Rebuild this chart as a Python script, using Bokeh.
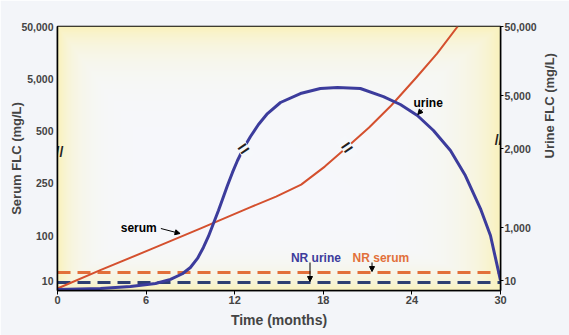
import numpy as np
from bokeh.plotting import figure
from bokeh.models import Range1d, LinearAxis, FixedTicker, Label, Arrow, NormalHead
from bokeh.core.properties import value
from bokeh.embed import file_html
from bokeh.resources import INLINE

# ---------------- data (mg/L) ----------------
serum_months = [0, 2.9, 6.3, 9.7, 13.0, 14.8, 16.5, 18.1, 19.6, 21.1, 22.6, 24.3, 25.7, 27.1]
serum_flc = [2, 17, 49, 113, 162, 196, 241, 309, 400, 570, 1510, 5220, 15100, 50000]

urine_months = [0, 2.91, 4.94, 6.64, 7.65, 8.46, 9.0, 9.48, 9.88, 10.22, 10.56, 10.9,
                11.17, 11.51, 11.85, 12.19, 12.59, 13.07, 13.61, 14.22, 15.1, 16.45,
                17.8, 18.96, 20.51, 22.07, 23.22, 24.37, 25.46, 26.61, 27.62, 28.64,
                29.32, 30.0]
urine_flc = [1, 2, 4, 7, 11, 18, 31, 68, 176, 459, 1036, 1161,
             1279, 1445, 1621, 1800, 2000, 2462, 3030, 3660, 4430, 5340,
             6310, 6530, 6310, 4910, 4280, 3540, 2730, 1966, 1578, 1181,
             497, 10]

nr_serum = 15      # normal range, serum (mg/L)
nr_urine = 8       # normal range, urine (mg/L)

x_ticks = [0, 6, 12, 18, 24, 30]
left_tick_values = [10, 100, 250, 500, 5000, 50000]
left_tick_labels = ["10", "100", "250", "500", "5,000", "50,000"]
right_tick_values = [10, 1000, 2000, 5000, 50000]
right_tick_labels = ["10", "1,000", "2,000", "5,000", "50,000"]

# break marks (month, mg/L)
serum_break = (19.6, 400)
urine_break = (12.59, 2000)
left_axis_break = 375
right_axis_break = 2300

# ---------------- broken (piecewise-log) scales ----------------
LEFT_ANCHOR_VALUES = [0] + left_tick_values
LEFT_ANCHOR_POS = [0, 10, 55, 108, 160, 212, 264]
RIGHT_ANCHOR_VALUES = [0] + right_tick_values
RIGHT_ANCHOR_POS = [0, 10, 63, 142, 195, 264]
Y_TOP = 264


def to_pos(vals, anchors, pos):
    out = []
    for v in np.atleast_1d(vals):
        for i in range(len(anchors) - 1):
            if v <= anchors[i + 1] or i == len(anchors) - 2:
                a, b = anchors[i], anchors[i + 1]
                f = v / b if a <= 0 else np.log(v / a) / np.log(b / a)
                out.append(pos[i] + f * (pos[i + 1] - pos[i]))
                break
    return np.array(out)


def left(v):
    return to_pos(v, LEFT_ANCHOR_VALUES, LEFT_ANCHOR_POS)


def right(v):
    return to_pos(v, RIGHT_ANCHOR_VALUES, RIGHT_ANCHOR_POS)


FONT = "Liberation Sans"
RED = "#d4502e"
BLUE = "#3c3c9c"
NR_ORANGE = "#e2703a"
NR_NAVY = "#2e3f72"

p = figure(width=569, height=335,
           x_range=Range1d(x_ticks[0], x_ticks[-1]), y_range=Range1d(0, Y_TOP),
           output_backend="svg", toolbar_location=None,
           min_border_left=57, min_border_right=69, min_border_top=26, min_border_bottom=45,
           border_fill_color="#f3f5f9", background_fill_color="#f6f8fb")
p.xgrid.visible = False
p.ygrid.visible = False
p.outline_line_color = "black"
p.outline_line_width = 1.5

# ---------- background gradient (yellow edges -> white centre) ----------
H, W = 264, 443
yy, xx = np.mgrid[0:H, 0:W].astype(float)
wgt = np.maximum.reduce([np.exp(-xx / 18), np.exp(-(W - 1 - xx) / 30),
                         np.exp(-(H - 1 - yy) / 24), np.exp(-yy / 14),
                         0.45 * np.exp(-((W - xx) / 110 + (H - yy) / 80))])
centre = np.array([246, 248, 252])
edge = np.array([250, 242, 188])
rgb = centre[None, None, :] * (1 - wgt[..., None]) + edge[None, None, :] * wgt[..., None]
img = np.empty((H, W), dtype=np.uint32)
view = img.view(dtype=np.uint8).reshape((H, W, 4))
view[..., :3] = rgb.astype(np.uint8)
view[..., 3] = 255
p.image_rgba(image=[img], x=x_ticks[0], y=0, dw=x_ticks[-1] - x_ticks[0], dh=Y_TOP)

# ---------- normal-range dashed lines ----------
xs = [x_ticks[0], x_ticks[-1]]
p.line(xs, list(left([nr_serum, nr_serum])), line_color=NR_ORANGE, line_width=3, line_dash="13 7")
p.line(xs, list(right([nr_urine, nr_urine])), line_color=NR_NAVY, line_width=3, line_dash="13 7")

# ---------- curves ----------
p.line(serum_months, left(serum_flc), line_color=RED, line_width=2, line_join="round")
p.line(urine_months, right(urine_flc), line_color=BLUE, line_width=3, line_join="round")

# ---------- break marks ----------
p.text(x=[urine_break[0], serum_break[0]],
       y=[right(urine_break[1])[0], left(serum_break[1])[0]],
       text=["=", "="], angle=0.6, text_align="center", text_baseline="middle",
       text_font=value(FONT), text_font_style="bold", text_font_size="19px", text_color="#222222",
       background_fill_color="#f6f8fb", padding=0)
p.text(x=[x_ticks[0]], y=[left(left_axis_break)[0]], text=["//"],
       text_align="left", text_baseline="middle", x_offset=-2,
       text_font=value(FONT), text_font_style="bold", text_font_size="14px", text_color="#222222")
p.text(x=[x_ticks[-1]], y=[right(right_axis_break)[0]], text=["//"],
       text_align="right", text_baseline="middle", x_offset=2,
       text_font=value(FONT), text_font_style="bold", text_font_size="14px", text_color="#222222")

# ---------- axes ----------
tick_font_size = "10.5px"
xa = p.xaxis[0]
xa.ticker = FixedTicker(ticks=x_ticks)
xa.axis_label = "Time (months)"
xa.axis_label_text_font = FONT
xa.axis_label_text_font_style = "bold"
xa.axis_label_text_font_size = "14px"
xa.axis_label_standoff = 5
xa.major_label_text_font = FONT
xa.major_label_text_font_style = "bold"
xa.major_label_text_font_size = "11px"
xa.major_label_standoff = 1
xa.major_tick_out = 4
xa.major_tick_in = 0
xa.minor_tick_out = 0
xa.minor_tick_in = 0
xa.axis_line_width = 1.5

ya = p.yaxis[0]
lpos = [round(float(v), 3) for v in left(left_tick_values)]
ya.ticker = FixedTicker(ticks=lpos)
ya.major_label_overrides = {k: t for k, t in zip(lpos, left_tick_labels)}
ya.major_label_text_font = FONT
ya.major_label_text_font_style = "bold"
ya.major_label_text_font_size = tick_font_size
ya.major_label_standoff = 4
ya.major_tick_out = 0
ya.major_tick_in = 0
ya.minor_tick_out = 0
ya.minor_tick_in = 0
ya.axis_line_width = 1.5
ya.axis_label = "Serum FLC (mg/L)"
ya.axis_label_text_font = FONT
ya.axis_label_text_font_style = "bold"
ya.axis_label_text_font_size = "13px"
ya.axis_label_standoff = -6

rpos = [round(float(v), 3) for v in right(right_tick_values)]
ra = LinearAxis(ticker=FixedTicker(ticks=rpos))
ra.major_label_overrides = {k: t for k, t in zip(rpos, right_tick_labels)}
ra.major_label_text_font = FONT
ra.major_label_text_font_style = "bold"
ra.major_label_text_font_size = tick_font_size
ra.major_label_standoff = 1
ra.major_tick_out = 3
ra.major_tick_in = 0
ra.minor_tick_out = 0
ra.minor_tick_in = 0
ra.axis_line_width = 1.5
ra.axis_label = "Urine FLC (mg/L)"
ra.axis_label_text_font = FONT
ra.axis_label_text_font_style = "bold"
ra.axis_label_text_font_size = "13px"
ra.axis_label_standoff = 10
if "axis_label_orientation" in ra.properties():
    ra.axis_label_orientation = float(np.pi / 2)
p.add_layout(ra, "right")

# ---------- annotations ----------
def note(x, y, text, color="black"):
    p.add_layout(Label(x=x, y=y, text=text, text_align="center", text_baseline="middle",
                       text_font=FONT, text_font_style="bold", text_font_size="12px",
                       text_color=color))


def arrow(x0, y0, x1, y1):
    p.add_layout(Arrow(end=NormalHead(size=5, fill_color="black", line_color="black"),
                       x_start=x0, y_start=y0, x_end=x1, y_end=y1,
                       line_color="black", line_width=1))


note(5.5, 63, "serum")
arrow(7.0, 62, 8.3, 57)
note(25.1, 188, "urine")
arrow(24.7, 181, 24.4, 176)
note(17.5, 33, "NR urine", BLUE)
arrow(17.1, 28, 17.1, float(right(nr_urine)[0]) + 1)
note(21.9, 33, "NR serum", NR_ORANGE)
arrow(21.3, 28, 21.3, float(left(nr_serum)[0]) + 1)

open("out.html", "w").write(file_html(p, INLINE))
